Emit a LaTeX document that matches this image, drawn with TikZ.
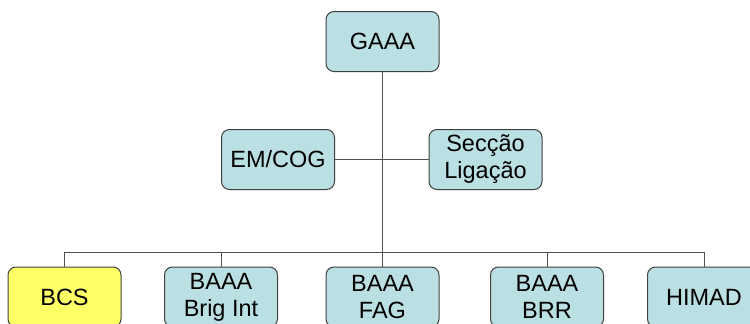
\documentclass[tikz,border=0pt]{standalone}
\usepackage{fontspec}
\setmainfont{Liberation Sans}
\definecolor{boxfill}{HTML}{BBE0E3}
\definecolor{boxyellow}{HTML}{FFFF66}
\definecolor{boxline}{HTML}{404040}
\definecolor{linkline}{HTML}{505050}
\begin{document}
\begin{tikzpicture}[x=1pt,y=-1pt,
  unit/.style={draw=boxline, line width=1pt, fill=boxfill, rounded corners=8pt,
    minimum width=113pt, minimum height=60pt, inner sep=0pt, align=center,
    font=\fontsize{23.5}{27}\selectfont},
  link/.style={draw=linkline, line width=1pt}]
\useasboundingbox (0,0) rectangle (750,324);
\clip (0,0) rectangle (750,324);

% units
\node[unit] (gaaa) at (382.5,41.5) {GAAA};
\node[unit] (emcog) at (278,159.5) {EM/COG};
\node[unit] (seccao) at (485.5,159.5) {Secção\\Ligação};
\node[unit, fill=boxyellow] (bcs) at (64.5,297) {BCS};
\node[unit] (brig) at (221,297) {BAAA\\Brig Int};
\node[unit] (fag) at (382.5,297) {BAAA\\FAG};
\node[unit] (brr) at (547,297) {BAAA\\BRR};
\node[unit] (himad) at (704,297) {HIMAD};

% connectors
\coordinate (bus) at (0,252);
\draw[link] (gaaa.south) -- (fag.north);
\draw[link] (emcog.east) -- (seccao.west);
\draw[link] (bcs.north) -- (bcs.north |- bus) -- (himad.north |- bus) -- (himad.north);
\draw[link] (brig.north) -- (brig.north |- bus);
\draw[link] (brr.north) -- (brr.north |- bus);
\end{tikzpicture}
\end{document}
